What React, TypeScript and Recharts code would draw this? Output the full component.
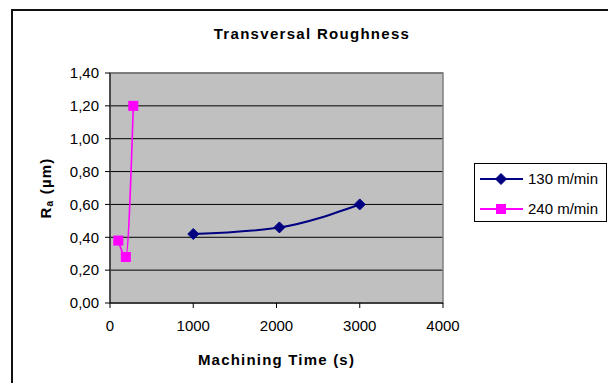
import { LineChart, Line, XAxis, YAxis, CartesianGrid, ReferenceArea } from "recharts";

// values
const xTicks = [0, 1000, 2000, 3000, 4000];
const yTicks = [0, 0.2, 0.4, 0.6, 0.8, 1.0, 1.2, 1.4];
const time130 = [1000, 2035, 3000];
const ra130 = [0.42, 0.46, 0.6];
const time240 = [100, 190, 280];
const ra240 = [0.38, 0.28, 1.2];
const seriesNames = ["130 m/min", "240 m/min"];
const seriesColors = ["#000080", "#FF00FF"];

const data130 = time130.map((t, i) => ({ t, ra: ra130[i] }));
const data240 = time240.map((t, i) => ({ t, ra: ra240[i] }));

const font = "'Liberation Sans', Arial, sans-serif";

function Diamond({ cx, cy, color }: { cx: number; cy: number; color: string }) {
  const r = 5.5;
  return <path d={`M${cx},${cy - r}L${cx + r},${cy}L${cx},${cy + r}L${cx - r},${cy}Z`} fill={color} stroke={color} />;
}

function Square({ cx, cy, color }: { cx: number; cy: number; color: string }) {
  const r = 4.5;
  return <rect x={cx - r} y={cy - r} width={r * 2} height={r * 2} fill={color} stroke={color} />;
}

const markers = [Diamond, Square];

function RaLabel(props: any) {
  const vb = props.viewBox || {};
  const x = vb.x + 25;
  const y = vb.y + vb.height / 2;
  return (
    <text
      x={x}
      y={y}
      transform={`rotate(-90 ${x} ${y})`}
      textAnchor="middle"
      dominantBaseline="central"
      fontFamily={font}
      fontSize={15}
      fontWeight="bold"
      letterSpacing={1.2}
      fill="#000"
    >
      R<tspan fontSize={10} dy={4}>a</tspan>
      <tspan dy={-4}> (µm)</tspan>
    </text>
  );
}

export default function App() {
  return (
    <div style={{ position: "absolute", left: 0, top: 0, width: 608, height: 383, overflow: "hidden", background: "#fff", fontFamily: font }}>
      <div style={{ position: "absolute", left: 11, top: 9, width: 800, height: 600, borderLeft: "2px solid #111", borderTop: "2px solid #111" }} />
      <div style={{ position: "absolute", left: 112, width: 400, top: 25, textAlign: "center", fontSize: 15, fontWeight: "bold", letterSpacing: 1.3, whiteSpace: "nowrap" }}>
        Transversal Roughness
      </div>
      <LineChart width={608} height={383} margin={{ top: 73, right: 165, bottom: 50, left: 20 }} style={{ position: "absolute", left: 0, top: 0 }}>
        <CartesianGrid vertical={false} stroke="#000" fill="#C0C0C0" fillOpacity={1} />
        <ReferenceArea x1={0} x2={4000} y1={0} y2={1.4} fill="none" stroke="#808080" strokeWidth={1.5} ifOverflow="visible" />
        <XAxis
          type="number"
          dataKey="t"
          domain={[0, 4000]}
          ticks={xTicks}
          height={30}
          stroke="#000"
          tickSize={5}
          tickMargin={12}
          tick={{ fill: "#000", fontSize: 15, fontFamily: font }}
          allowDataOverflow
          label={{ value: "Machining Time (s)", position: "bottom", offset: 21, fill: "#000", fontSize: 15, fontWeight: "bold", fontFamily: font, letterSpacing: 1.2 }}
        />
        <YAxis
          type="number"
          dataKey="ra"
          domain={[0, 1.4]}
          ticks={yTicks}
          width={90}
          stroke="#000"
          tickSize={5}
          tickMargin={6}
          tick={{ fill: "#000", fontSize: 15, fontFamily: font }}
          tickFormatter={(v: number) => v.toFixed(2).replace(".", ",")}
          label={RaLabel}
        />
        {[data130, data240].map((d, s) => {
          const Marker = markers[s];
          return (
            <Line
              key={seriesNames[s]}
              data={d}
              dataKey="ra"
              name={seriesNames[s]}
              type="monotone"
              stroke={seriesColors[s]}
              strokeWidth={s === 0 ? 2 : 1.6}
              isAnimationActive={false}
              dot={(p: any) => <Marker key={p.index} cx={p.cx} cy={p.cy} color={seriesColors[s]} />}
              activeDot={false}
            />
          );
        })}
      </LineChart>
      <div style={{ position: "absolute", left: 474, top: 163, width: 131, height: 57, border: "1px solid #000", background: "#fff" }}>
        {seriesNames.map((name, s) => {
          const Marker = markers[s];
          return (
            <div key={name} style={{ position: "absolute", left: 0, top: 4 + s * 30, height: 22, width: 131 }}>
              <svg width={50} height={22} style={{ position: "absolute", left: 0, top: 0 }}>
                <line x1={5} x2={48} y1={11} y2={11} stroke={seriesColors[s]} strokeWidth={2} />
                <Marker cx={26} cy={11} color={seriesColors[s]} />
              </svg>
              <span style={{ position: "absolute", left: 53, top: 2, fontSize: 15, whiteSpace: "nowrap" }}>{name}</span>
            </div>
          );
        })}
      </div>
    </div>
  );
}
